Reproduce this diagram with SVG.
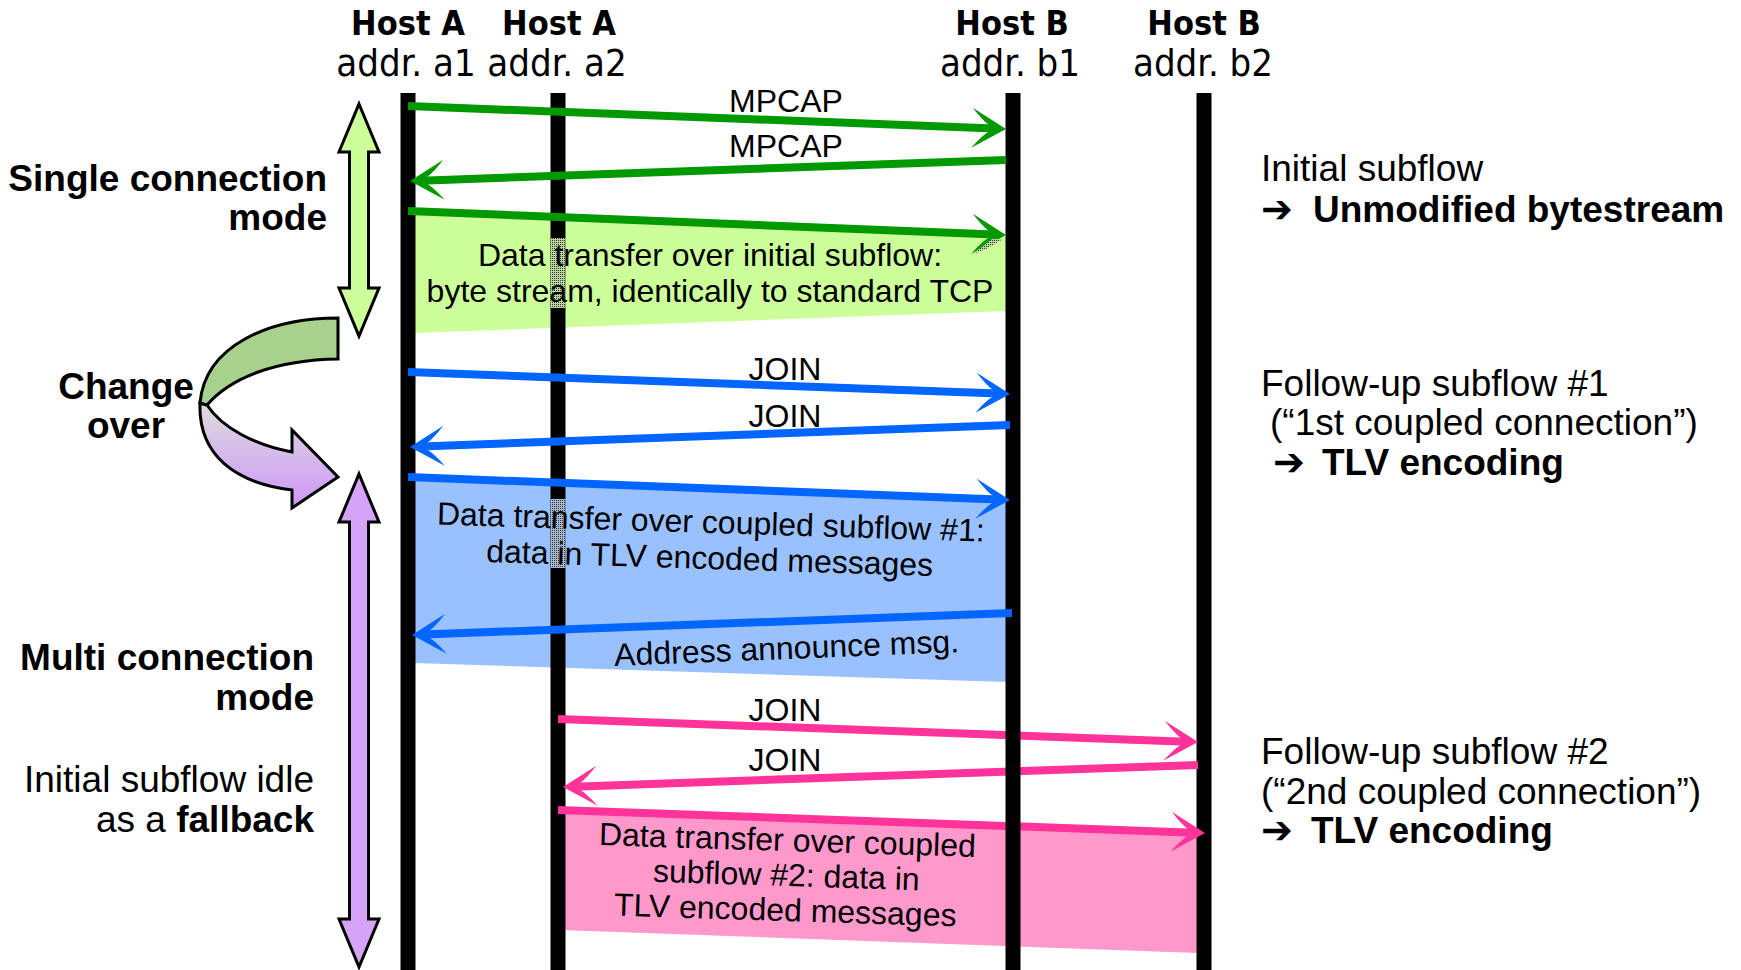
<svg xmlns="http://www.w3.org/2000/svg" width="1741" height="970" viewBox="0 0 1741 970">
<defs>
<style>
.hdr{font-family:"DejaVu Sans Condensed","DejaVu Sans",sans-serif;font-size:38px;text-anchor:middle;fill:#000}
.hb{font-weight:bold;font-size:34px}
.lbl{font-family:"Liberation Sans",Arial,sans-serif;font-size:32px;fill:#000}
.big{font-family:"Liberation Sans",Arial,sans-serif;font-size:37px;fill:#000}
.b{font-weight:bold}
.mid{text-anchor:middle}
.end{text-anchor:end}
.ar{font-family:"DejaVu Sans",sans-serif;font-weight:bold;font-size:38px}
.life{fill:#000}
.cg{stroke:#009900;stroke-width:8;fill:none}
.cb{stroke:#0066ff;stroke-width:8;fill:none}
.cp{stroke:#ff3399;stroke-width:8;fill:none}
.outline{stroke:#000;stroke-width:3;stroke-linejoin:miter}
</style>
<marker id="ahG" markerUnits="userSpaceOnUse" viewBox="-20 -24 42 48" refX="0" refY="0" markerWidth="42" markerHeight="48" orient="auto"><path d="M18,0 L-16,-20 Q-6,-8 0,-4 L0,4 Q-6,8 -16,20 Z" fill="#009900"/></marker>
<marker id="ahB" markerUnits="userSpaceOnUse" viewBox="-20 -24 42 48" refX="0" refY="0" markerWidth="42" markerHeight="48" orient="auto"><path d="M18,0 L-16,-20 Q-6,-8 0,-4 L0,4 Q-6,8 -16,20 Z" fill="#0066ff"/></marker>
<marker id="ahP" markerUnits="userSpaceOnUse" viewBox="-20 -24 42 48" refX="0" refY="0" markerWidth="42" markerHeight="48" orient="auto"><path d="M18,0 L-16,-20 Q-6,-8 0,-4 L0,4 Q-6,8 -16,20 Z" fill="#ff3399"/></marker>
<linearGradient id="purpleGrad" gradientUnits="userSpaceOnUse" x1="0" y1="403" x2="0" y2="500">
<stop offset="0" stop-color="#dcdcdc"/>
<stop offset="1" stop-color="#cf9cf7"/>
</linearGradient>
<pattern id="ditherG" width="2" height="2" patternUnits="userSpaceOnUse"><rect width="2" height="2" fill="#b8d8a0"/><rect width="1" height="1" fill="#333"/></pattern>
<pattern id="ditherB" width="2" height="2" patternUnits="userSpaceOnUse"><rect width="2" height="2" fill="#a8b8d0"/><rect width="1" height="1" fill="#333"/></pattern>
</defs>
<rect width="1741" height="970" fill="#fff"/>

<g id="region-initial">
<polygon points="414,213 1006,236 1006,311 414,333" fill="#ccff99"/>
</g>
<g id="region-coupled1">
<polygon points="414,479 1008,502 1008,682 414,663" fill="#99c0ff"/>
</g>
<g id="region-coupled2">
<polygon points="560,812 1198,835 1198,953 560,930" fill="#ff99cc"/>
</g>

<g id="header-a1">
<text class="hdr hb" x="408" y="35">Host A</text>
<text class="hdr" x="406" y="76">addr. a1</text>
</g>
<g id="header-a2">
<text class="hdr hb" x="559" y="35">Host A</text>
<text class="hdr" x="557" y="76">addr. a2</text>
</g>
<g id="header-b1">
<text class="hdr hb" x="1012" y="35">Host B</text>
<text class="hdr" x="1010" y="76">addr. b1</text>
</g>
<g id="header-b2">
<text class="hdr hb" x="1204" y="35">Host B</text>
<text class="hdr" x="1203" y="76">addr. b2</text>
</g>

<g id="lifeline-a1"><rect class="life" x="400.5" y="93" width="15" height="877"/></g>
<g id="lifeline-a2">
<rect class="life" x="550.5" y="93" width="15" height="877"/>
<rect x="550.5" y="238" width="15" height="70" fill="url(#ditherG)"/>
<rect x="550.5" y="499" width="15" height="69" fill="url(#ditherB)"/>
</g>
<g id="lifeline-b2"><rect class="life" x="1196.5" y="93" width="15" height="877"/></g>

<g id="connectors-subflow2">
<line class="cp" x1="558" y1="719" x2="1180" y2="741.4" marker-end="url(#ahP)"/>
<line class="cp" x1="1198" y1="765" x2="581" y2="786.4" marker-end="url(#ahP)"/>
<line class="cp" x1="558" y1="810" x2="1187" y2="832.4" marker-end="url(#ahP)"/>
</g>

<g id="lifeline-b1"><rect class="life" x="1005.5" y="93" width="15" height="877"/></g>

<g id="connectors">
<line class="cg" x1="408" y1="106" x2="988" y2="128.3" marker-end="url(#ahG)"/>
<line class="cg" x1="1006" y1="160" x2="428" y2="180.4" marker-end="url(#ahG)"/>
<line class="cg" x1="408" y1="211" x2="988" y2="234.3" marker-end="url(#ahG)"/>
<polygon points="973,254 992,239 1003,239 986,249" fill="url(#ditherG)"/>
<line class="cb" x1="408" y1="372" x2="992" y2="393.3" marker-end="url(#ahB)"/>
<line class="cb" x1="1010" y1="425" x2="428" y2="446.3" marker-end="url(#ahB)"/>
<line class="cb" x1="408" y1="477" x2="992" y2="499.3" marker-end="url(#ahB)"/>
<line class="cb" x1="1012" y1="613" x2="430" y2="634.3" marker-end="url(#ahB)"/>
</g>

<g id="msg-labels">
<text class="lbl mid" x="786" y="112">MPCAP</text>
<text class="lbl mid" x="786" y="157">MPCAP</text>
<text class="lbl mid" x="785" y="380">JOIN</text>
<text class="lbl mid" x="785" y="427">JOIN</text>
<text class="lbl mid" x="785" y="721">JOIN</text>
<text class="lbl mid" x="785" y="771">JOIN</text>
</g>

<g id="text-initial">
<text class="lbl mid" x="710" y="266">Data transfer over initial subflow:</text>
<text class="lbl mid" x="710" y="302">byte stream, identically to standard TCP</text>
</g>
<g id="text-coupled1" transform="rotate(1.8 710 550)">
<text class="lbl mid" x="710" y="533">Data transfer over coupled subflow #1:</text>
<text class="lbl mid" x="710" y="569">data in TLV encoded messages</text>
</g>
<g id="text-announce" transform="rotate(-2.3 787 659)">
<text class="lbl mid" x="787" y="659">Address announce msg.</text>
</g>
<g id="text-coupled2" transform="rotate(1.8 786 886)">
<text class="lbl mid" x="786" y="851">Data transfer over coupled</text>
<text class="lbl mid" x="786" y="886">subflow #2: data in</text>
<text class="lbl mid" x="786" y="921">TLV encoded messages</text>
</g>

<g id="mode-single">
<polygon class="outline" fill="#ccff99" points="359,104 379,152 368.5,152 368.5,288 379,288 359,336 339,288 349.5,288 349.5,152 339,152"/>
<text class="big b end" x="327" y="191">Single connection</text>
<text class="big b end" x="327" y="230">mode</text>
</g>

<g id="change-over">
<path class="outline" fill="url(#purpleGrad)" d="M200,403 C198,455 235,483 292,490 L292,508 L338,477 L292,430 L292,452 C255,445 222,428 207,405 Z"/>
<path class="outline" fill="#a9d18e" d="M338,318 C270,318 205,345 200,403 L207,405 C230,378 275,360 338,359 Z"/>
<text class="big b mid" x="126" y="399">Change</text>
<text class="big b mid" x="126" y="438">over</text>
</g>

<g id="mode-multi">
<polygon class="outline" fill="#d5a3f7" points="359,474 379,522 368.5,522 368.5,919 379,919 359,967 339,919 349.5,919 349.5,522 339,522"/>
<text class="big b end" x="314" y="670">Multi connection</text>
<text class="big b end" x="314" y="710">mode</text>
<text class="big end" x="314" y="792">Initial subflow idle</text>
<text class="big end" x="314" y="832">as a <tspan class="b">fallback</tspan></text>
</g>

<g id="note-initial">
<text class="big" x="1261" y="181">Initial subflow</text>
<text class="big b" y="222"><tspan class="ar" x="1261">➔</tspan><tspan x="1313">Unmodified bytestream</tspan></text>
</g>
<g id="note-follow1">
<text class="big" x="1261" y="396">Follow-up subflow #1</text>
<text class="big" x="1270" y="435">(“1st coupled connection”)</text>
<text class="big b" y="475"><tspan class="ar" x="1273">➔</tspan><tspan x="1322">TLV encoding</tspan></text>
</g>
<g id="note-follow2">
<text class="big" x="1261" y="764">Follow-up subflow #2</text>
<text class="big" x="1261" y="804">(“2nd coupled connection”)</text>
<text class="big b" y="843"><tspan class="ar" x="1261">➔</tspan><tspan x="1311">TLV encoding</tspan></text>
</g>
</svg>
